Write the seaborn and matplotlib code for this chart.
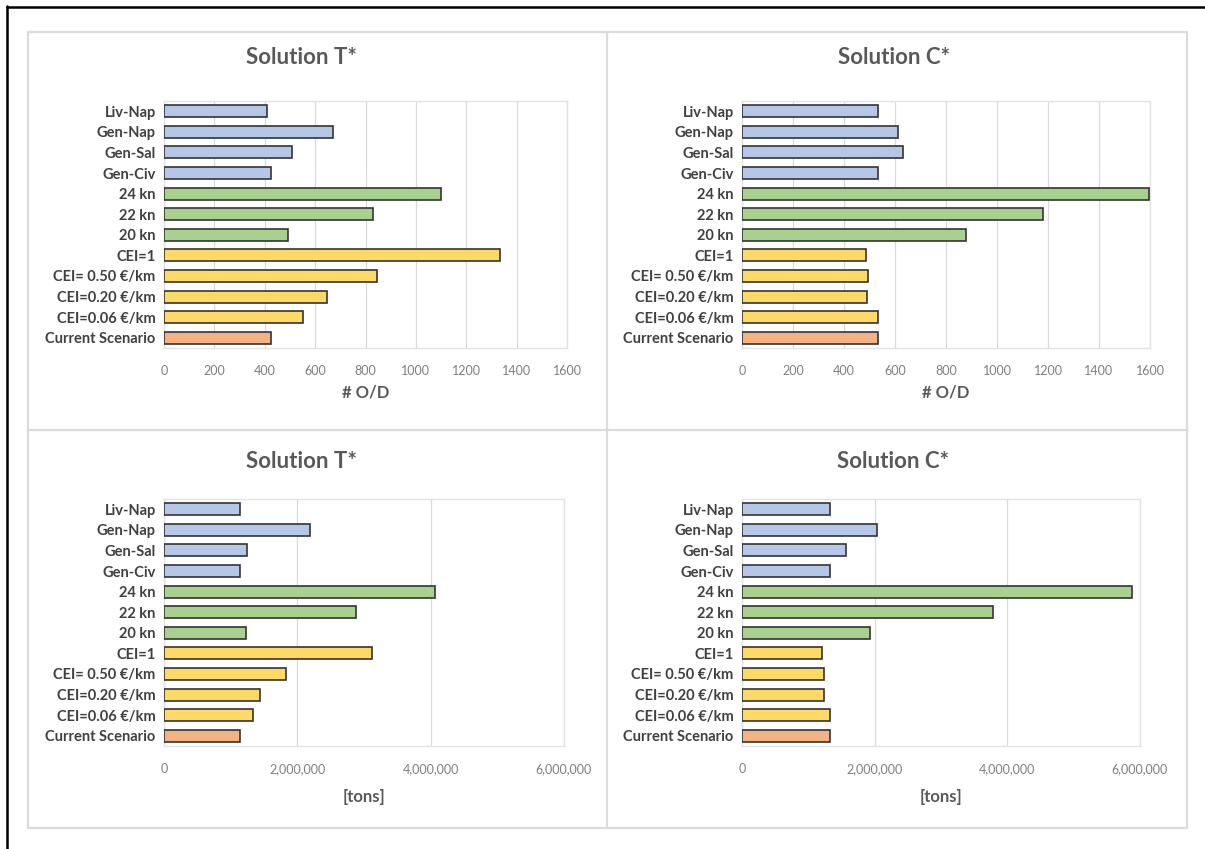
import matplotlib
matplotlib.use("Agg")
import matplotlib.pyplot as plt
from matplotlib.lines import Line2D
from matplotlib.ticker import FuncFormatter, MultipleLocator
import seaborn as sns
import pandas as pd

# Scenario labels, top to bottom
scenarios = ["Liv-Nap", "Gen-Nap", "Gen-Sal", "Gen-Civ", "24 kn", "22 kn", "20 kn",
             "CEI=1", "CEI= 0.50 €/km", "CEI=0.20 €/km", "CEI=0.06 €/km", "Current Scenario"]
groups = ["route"] * 4 + ["speed"] * 3 + ["cei"] * 4 + ["current"]

# Number of O/D pairs served
od_T = [410, 671, 507, 424, 1100, 831, 491, 1333, 846, 646, 553, 424]
od_C = [532, 613, 632, 532, 1597, 1182, 879, 487, 495, 489, 532, 532]

# Transported freight [tons]
tons_T = [1133000, 2194000, 1239000, 1139000, 4067000, 2883000, 1233000,
          3122000, 1828000, 1433000, 1333000, 1139000]
tons_C = [1328000, 2034000, 1569000, 1322000, 5880000, 3782000, 1937000,
          1213000, 1241000, 1236000, 1328000, 1322000]

palette = {"route": "#B4C7E7", "speed": "#A9D18E", "cei": "#FFD966", "current": "#F4B183"}

sns.set_theme(style="white")
plt.rcParams["font.family"] = ["Lato", "DejaVu Sans"]

W, H = 1205, 849
fig = plt.figure(figsize=(W / 100, H / 100), dpi=100)


def ax_at(x0, y0, x1, y1):
    return fig.add_axes([x0 / W, 1 - y1 / H, (x1 - x0) / W, (y1 - y0) / H])


panels = [
    ("Solution T*", od_T, "# O/D", (164, 101, 567, 348), 1600, 200, False, 302),
    ("Solution C*", od_C, "# O/D", (742, 101, 1150, 348), 1600, 200, False, 894),
    ("Solution T*", tons_T, "[tons]", (164, 499, 564, 746), 6000000, 2000000, True, 302),
    ("Solution C*", tons_C, "[tons]", (742, 499, 1140, 746), 6000000, 2000000, True, 893),
]

title_y = {101: 58, 499: 462}
xlabel_y = {348: 393, 746: 797}

for title, vals, xlabel, (x0, y0, x1, y1), xmax, step, commas, tx in panels:
    ax = ax_at(x0, y0, x1, y1)
    df = pd.DataFrame({"scenario": scenarios, "value": vals, "group": groups})
    sns.barplot(data=df, y="scenario", x="value", hue="group", palette=palette,
                order=scenarios, dodge=False, orient="h", width=0.58, saturation=1,
                edgecolor="#333333", linewidth=1.2, legend=False, ax=ax, zorder=3)
    ax.set_xlim(0, xmax)
    ax.set_ylim(11.5, -0.5)
    ax.xaxis.set_major_locator(MultipleLocator(step))
    if commas:
        ax.xaxis.set_major_formatter(FuncFormatter(lambda v, p: f"{int(v):,}"))
    ax.grid(axis="x", color="#d9d9d9", linewidth=0.9, zorder=0)
    ax.grid(axis="y", visible=False)
    for s in ax.spines.values():
        s.set_color("#e3e3e3")
        s.set_linewidth(1.0)
    ax.tick_params(axis="x", labelsize=9, colors="#7f7f7f", length=0, pad=12)
    ax.tick_params(axis="y", labelsize=10.5, length=0, pad=6)
    for t in ax.get_yticklabels():
        t.set_color("#404040")
        t.set_fontweight("bold")
    ax.set_ylabel("")
    ax.set_xlabel("")
    cx = (x0 + x1) / 2 / W
    fig.text(tx / W, 1 - title_y[y0] / H, title, ha="center", va="center",
             fontsize=16, fontweight="bold", color="#595959")
    fig.text(cx, 1 - xlabel_y[y1] / H, xlabel, ha="center", va="center",
             fontsize=12, fontweight="bold", color="#595959")

# Panel frames
grey = "#dcdcdc"
lines = [
    ((28, 1187), (32, 32)), ((28, 1187), (430, 430)), ((28, 1187), (828, 828)),
    ((28, 28), (32, 828)), ((607, 607), (32, 828)), ((1187, 1187), (32, 828)),
]
for xs, ys in lines:
    fig.add_artist(Line2D([x / W for x in xs], [1 - y / H for y in ys],
                          color=grey, linewidth=1.6))

# Outer page border
fig.add_artist(Line2D([7 / W, 7 / W], [1 - 6 / H, 0], color="black", linewidth=1.8))
fig.add_artist(Line2D([7 / W, 1], [1 - 7 / H, 1 - 7 / H], color="black", linewidth=1.8))

fig.savefig("out.png", dpi=100, facecolor="white")
